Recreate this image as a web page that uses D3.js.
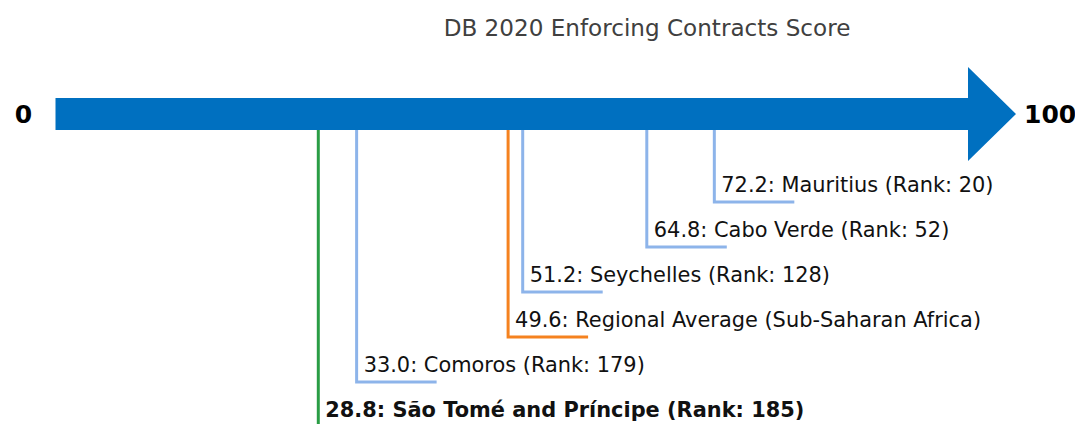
<!DOCTYPE html>
<html>
<head>
<meta charset="utf-8">
<script src="https://cdn.jsdelivr.net/npm/d3@7"></script>
<style>
  html, body { margin: 0; padding: 0; background: #fff; }
  svg { display: block; font-family: "DejaVu Sans", sans-serif; }
</style>
</head>
<body>
<svg id="chart" width="1075" height="424"></svg>
<script>
// ---- data ----
const title = "DB 2020 Enforcing Contracts Score";
const scaleMin = 0;
const scaleMax = 100;
const names = ["Mauritius (Rank: 20)", "Cabo Verde (Rank: 52)", "Seychelles (Rank: 128)",
               "Regional Average (Sub-Saharan Africa)", "Comoros (Rank: 179)",
               "São Tomé and Príncipe (Rank: 185)"];
const scores = [72.2, 64.8, 51.2, 49.6, 33.0, 28.8];
const kinds = ["peer", "peer", "peer", "region", "peer", "focus"];

// ---- layout ----
const W = 1075, H = 424;
const svg = d3.select("#chart");
const x = d3.scaleLinear().domain([scaleMin, scaleMax]).range([55.5, 968]);
const y = d3.scaleLinear().domain([0, names.length - 1]).range([202, 427]);
const color = d3.scaleOrdinal().domain(["peer", "region", "focus"])
  .range(["#8db4ea", "#f5821f", "#2a9d45"]);

const barTop = 98, barBot = 130, barMid = (barTop + barBot) / 2;
const headHalf = 47, headLen = 48;

// leader lines (drawn first, below arrow)
const g = svg.append("g");
names.forEach((n, i) => {
  const xv = x(scores[i]);
  const yv = y(i);
  const c = color(kinds[i]);
  g.append("path")
    .attr("d", kinds[i] === "focus"
      ? `M${xv},${barBot} L${xv},${H + 10}`
      : `M${xv},${barBot} L${xv},${yv} L${xv + 80},${yv}`)
    .attr("fill", "none")
    .attr("stroke", c)
    .attr("stroke-width", 3);
  g.append("text")
    .attr("x", xv + 7)
    .attr("y", yv - 10)
    .attr("font-size", "20.9px")
    .attr("font-weight", kinds[i] === "focus" ? "bold" : "normal")
    .attr("fill", "#111")
    .text(`${scores[i].toFixed(1)}: ${n}`);
});

// arrow
const x0 = x(scaleMin), x1 = x(scaleMax);
svg.append("path")
  .attr("d", `M${x0},${barTop} L${x1},${barTop} L${x1},${barMid - headHalf} L${x1 + headLen},${barMid} L${x1},${barMid + headHalf} L${x1},${barBot} L${x0},${barBot} Z`)
  .attr("fill", "#0070c0");

// end labels
svg.append("text").attr("x", 23.5).attr("y", 123).attr("text-anchor", "middle")
  .attr("font-size", "25px").attr("font-weight", "bold").attr("fill", "#000")
  .text(String(scaleMin));
svg.append("text").attr("x", 1024).attr("y", 123)
  .attr("font-size", "25px").attr("font-weight", "bold").attr("fill", "#000")
  .text(String(scaleMax));

// title
svg.append("text").attr("x", 647).attr("y", 36).attr("text-anchor", "middle")
  .attr("font-size", "23.1px").attr("fill", "#404040")
  .text(title);
</script>
</body>
</html>
